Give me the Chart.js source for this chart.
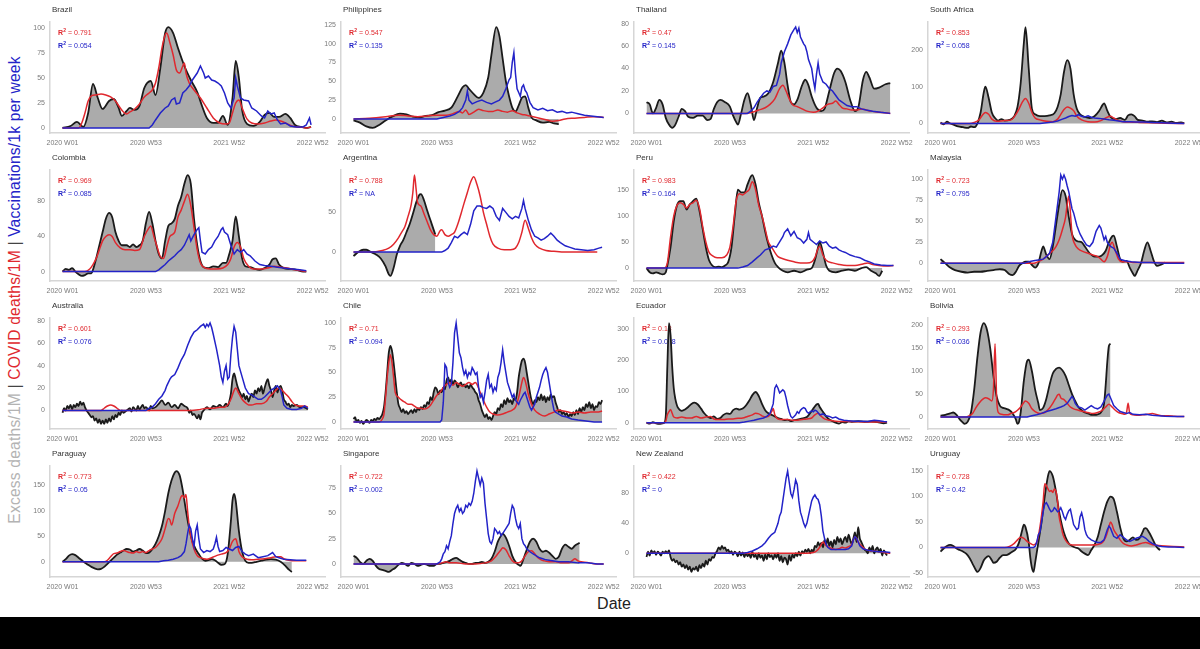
<!DOCTYPE html>
<html><head><meta charset="utf-8">
<script src="https://cdn.jsdelivr.net/npm/chart.js@4.4.1/dist/chart.umd.min.js"></script>
<style>
html,body{margin:0;padding:0;background:#fff;width:1200px;height:649px;overflow:hidden;position:relative;font-family:'Liberation Sans',Arial,sans-serif}
canvas{position:absolute}
#ylab{position:absolute;left:15px;top:290px;transform:translate(-50%,-50%) rotate(-90deg);white-space:nowrap;font-size:15.6px;letter-spacing:0.2px}
#xlab{position:absolute;left:614px;top:604px;transform:translate(-50%,-50%);font-size:16px;color:#222}
#band{position:absolute;left:0;top:617px;width:1200px;height:32px;background:#000}
</style></head><body>
<div id="ylab"><span style="color:#b3b3b3">Excess deaths/1M</span><span style="color:#444"> | </span><span style="color:#e0282e">COVID deaths/1M</span><span style="color:#444"> | </span><span style="color:#2323c8">Vaccinations/1k per week</span></div>
<div id="xlab">Date</div>
<div id="band"></div>
<script>
// ---------- shared axis data ----------
const tickWeeks = [0, 52, 104, 156];
const tickLabels = ['2020 W01', '2020 W53', '2021 W52', '2022 W52'];
const countries = ['Brazil','Philippines','Thailand','South Africa','Colombia','Argentina','Peru','Malaysia','Australia','Chile','Ecuador','Bolivia','Paraguay','Singapore','New Zealand','Uruguay'];
const r2Covid = ['0.791','0.547','0.47','0.853','0.969','0.788','0.983','0.723','0.601','0.71','0.18','0.293','0.773','0.722','0.422','0.728'];
const r2Vacc  = ['0.054','0.135','0.145','0.058','0.085','NA','0.164','0.795','0.076','0.094','0.028','0.036','0.05','0.002','0','0.42'];
const yTicks = [[0,25,50,75,100],[0,25,50,75,100,125],[0,20,40,60,80],[0,100,200],[0,40,80],[0,50],[0,50,100,150],[0,25,50,75,100],[0,20,40,60,80],[0,25,50,75,100],[0,100,200,300],[0,50,100,150,200],[0,50,100,150],[0,25,50,75],[0,40,80],[-50,0,50,100,150]];

// ---------- series: [week index, value] ----------
const brazilExcess = [[0,0],[5,2],[9,6],[13,1],[16,15],[19,44],[22,30],[25,19],[29,27],[32,29],[35,20],[37,12],[40,17],[42,20],[45,18],[48,22],[51,40],[55,47],[58,33],[61,60],[64,95],[66,101],[69,95],[72,80],[76,62],[80,48],[84,36],[87,22],[90,10],[94,5],[97,5],[100,12],[103,3],[106,30],[108,67],[110,50],[112,18],[115,4],[119,2],[123,6],[126,13],[129,15],[132,11],[135,11],[139,14],[142,10],[145,3],[149,1],[152,0],[155,1]];
const brazilCovid = [[0,0],[10,0],[12,5],[14,15],[16,27],[18,32],[21,33],[24,34],[27,33],[30,31],[33,27],[36,20],[38,16],[40,14],[42,16],[45,19],[48,24],[51,31],[54,35],[56,38],[58,45],[60,60],[62,80],[64,93],[65,95],[67,85],[69,73],[71,58],[73,55],[75,62],[76,65],[77,55],[79,45],[82,38],[86,30],[90,20],[94,10],[98,5],[102,4],[104,5],[106,15],[108,25],[110,28],[112,20],[115,9],[118,5],[122,4],[126,5],[130,7],[133,8],[136,7],[139,5],[143,2],[148,1],[152,0],[155,1]];
const brazilVacc = [[0,0],[54,0],[56,3],[58,8],[61,15],[64,20],[66,22],[68,28],[70,30],[71,24],[73,25],[75,35],[77,38],[79,42],[81,48],[84,55],[86,62],[88,55],[89,50],[91,52],[93,48],[95,47],[97,45],[99,42],[101,35],[103,25],[105,20],[107,30],[108,50],[109,42],[111,30],[113,28],[116,27],[118,20],[121,17],[124,12],[126,10],[128,17],[130,14],[132,15],[134,8],[136,4],[139,5],[142,2],[146,1],[150,1],[152,3],[154,10],[155,3]];

const philippinesExcess = [[0,-2],[4,-5],[8,-10],[12,-12],[16,-8],[20,-2],[24,3],[29,7],[33,6],[37,3],[41,2],[45,4],[49,5],[53,9],[57,11],[61,15],[65,30],[68,42],[70,45],[72,40],[75,33],[78,28],[81,35],[84,55],[86,85],[89,122],[91,110],[93,80],[95,50],[97,30],[99,15],[101,10],[103,18],[105,28],[107,30],[109,15],[111,2],[114,-2],[118,-5],[122,-4],[125,-6],[128,-7]];
const philippinesCovid = [[0,0],[10,1],[20,3],[28,5],[34,4],[40,3],[46,4],[52,5],[58,5],[62,7],[66,10],[68,8],[70,12],[72,6],[75,9],[78,13],[81,11],[84,10],[87,10],[90,12],[93,10],[96,9],[99,11],[102,8],[105,6],[108,5],[112,3],[116,1],[120,-1],[124,-3],[128,-2],[132,0],[138,1],[144,2],[150,3],[156,2]];
const philippinesVacc = [[0,0],[52,0],[56,2],[60,4],[63,6],[66,10],[68,15],[70,25],[71,37],[72,25],[74,20],[77,23],[80,25],[83,22],[86,20],[88,22],[91,25],[93,30],[95,40],[97,52],[98,55],[99,75],[100,88],[101,60],[102,40],[103,35],[104,30],[105,42],[106,45],[107,38],[108,35],[110,22],[112,15],[115,12],[118,14],[121,11],[124,12],[127,9],[130,10],[133,8],[136,9],[140,7],[144,5],[148,4],[152,3],[156,2]];

const thailandExcess = [[0,10],[2,8],[4,0],[6,5],[8,12],[10,8],[12,-4],[14,-10],[16,-13],[18,-10],[20,-3],[22,4],[24,2],[26,-3],[29,-4],[32,-2],[35,-2],[38,-6],[40,-5],[42,4],[44,10],[46,12],[49,10],[52,6],[54,-2],[56,-8],[57,-10],[59,0],[61,12],[63,18],[65,8],[67,-6],[69,5],[71,14],[73,15],[76,18],[79,28],[82,45],[84,56],[86,45],[88,25],[90,10],[92,8],[94,12],[97,25],[99,30],[101,25],[103,15],[106,5],[109,2],[111,4],[114,20],[117,36],[119,40],[121,38],[124,28],[127,12],[130,2],[132,5],[135,30],[137,37],[139,32],[142,22],[145,23],[149,26],[152,27]];
const thailandCovid = [[0,0],[62,0],[66,1],[70,3],[74,5],[77,8],[80,13],[83,22],[85,25],[87,20],[89,13],[91,8],[94,6],[97,4],[100,2],[104,1],[107,2],[110,5],[113,8],[116,9],[118,11],[120,8],[122,5],[125,4],[128,3],[131,3],[134,4],[137,3],[140,2],[145,1],[152,0]];
const thailandVacc = [[0,0],[63,0],[65,2],[67,5],[69,10],[71,14],[73,18],[75,20],[77,19],[79,24],[81,25],[83,35],[84,45],[86,55],[88,62],[90,70],[92,75],[93,77],[94,72],[95,76],[96,68],[98,62],[99,60],[100,55],[101,48],[102,44],[103,40],[104,30],[105,22],[106,35],[107,45],[108,35],[110,28],[112,26],[114,22],[116,20],[118,16],[120,12],[122,10],[125,7],[128,6],[131,6],[134,4],[137,3],[141,2],[146,1],[152,0]];

const southAfricaExcess = [[0,3],[2,-2],[4,5],[6,0],[8,-3],[11,-8],[14,-10],[17,-12],[19,-8],[21,-10],[23,0],[25,30],[27,85],[28,100],[30,70],[32,30],[34,15],[36,8],[38,12],[40,8],[43,10],[46,20],[48,45],[50,110],[52,220],[53,262],[55,150],[57,40],[59,25],[62,20],[65,20],[68,22],[71,28],[73,45],[75,80],[77,140],[79,172],[81,150],[83,80],[85,40],[87,25],[90,18],[93,15],[96,20],[99,35],[101,50],[102,55],[104,35],[106,18],[109,12],[112,15],[115,10],[117,22],[119,25],[121,20],[123,10],[126,8],[129,5],[132,6],[135,4],[138,8],[141,3],[144,5],[147,2],[150,3],[152,1]];
const southAfricaCovid = [[0,0],[18,0],[21,3],[24,10],[26,22],[28,30],[30,25],[32,12],[35,6],[40,8],[44,10],[47,25],[49,40],[51,58],[53,68],[55,55],[57,30],[59,15],[62,10],[66,6],[70,5],[73,12],[75,25],[77,38],[79,45],[81,42],[83,35],[85,20],[88,10],[92,5],[96,4],[100,8],[103,15],[106,20],[108,15],[111,8],[114,5],[118,4],[124,3],[131,2],[140,1],[152,0]];
const southAfricaVacc = [[0,0],[62,0],[66,2],[70,4],[73,7],[76,12],[78,15],[80,19],[82,22],[84,20],[86,24],[88,20],[90,18],[92,21],[94,17],[96,15],[99,14],[102,12],[105,10],[108,9],[111,7],[114,5],[118,5],[122,4],[127,4],[132,3],[138,2],[145,1],[152,0]];

const colombiaExcess = [[0,0],[2,3],[4,2],[6,4],[8,0],[10,-3],[12,-5],[14,-4],[16,-2],[18,-2],[19,2],[21,15],[23,30],[25,45],[27,60],[29,67],[31,62],[33,45],[35,35],[37,30],[40,30],[42,28],[44,31],[46,28],[48,30],[50,35],[52,55],[54,68],[56,55],[58,35],[60,20],[62,15],[64,35],[66,52],[68,55],[70,60],[72,75],[74,85],[76,100],[78,110],[80,100],[82,60],[84,30],[86,12],[88,5],[91,4],[94,6],[97,5],[100,10],[102,10],[104,20],[106,35],[108,63],[110,40],[112,15],[114,6],[117,5],[120,3],[123,2],[126,4],[129,8],[131,14],[133,15],[135,8],[138,4],[142,3],[146,2],[150,0],[152,0]];
const colombiaCovid = [[0,0],[14,0],[17,3],[19,8],[21,15],[23,25],[25,35],[27,40],[29,42],[31,40],[33,33],[36,27],[39,25],[42,25],[45,24],[48,25],[51,40],[54,50],[55,52],[57,40],[59,28],[61,17],[63,15],[65,28],[67,40],[70,45],[72,62],[74,70],[76,80],[78,88],[80,75],[82,50],[84,25],[86,10],[88,5],[92,3],[96,3],[100,4],[103,8],[105,15],[107,28],[109,33],[111,28],[113,15],[116,6],[119,3],[124,3],[128,4],[132,6],[136,5],[140,4],[145,2],[152,0]];
const colombiaVacc = [[0,0],[58,0],[60,2],[62,5],[64,8],[66,12],[68,15],[70,18],[72,22],[74,25],[76,30],[78,38],[79,42],[80,35],[82,42],[84,48],[85,50],[86,35],[87,22],[89,20],[91,25],[93,28],[95,35],[97,40],[99,48],[100,50],[101,45],[103,42],[105,30],[107,20],[109,25],[111,22],[113,25],[115,20],[117,18],[120,12],[123,8],[126,7],[130,6],[134,5],[138,4],[143,3],[148,2],[152,1]];

const argentinaExcess = [[0,-5],[3,0],[6,3],[8,3],[11,0],[14,-3],[17,-8],[20,-18],[22,-28],[23,-30],[25,-20],[27,-3],[29,8],[31,15],[33,25],[35,35],[37,48],[39,62],[41,72],[42,73],[44,65],[46,52],[48,40],[50,28],[51,22]];
const argentinaCovid = [[0,0],[10,0],[18,2],[22,5],[25,10],[28,18],[30,25],[32,32],[34,45],[36,60],[37,75],[38,97],[39,80],[40,62],[42,58],[44,48],[46,38],[48,28],[50,22],[52,20],[54,27],[55,28],[57,22],[59,20],[61,22],[63,25],[65,35],[67,48],[69,62],[71,75],[73,88],[75,95],[77,85],[79,70],[81,50],[83,35],[85,20],[87,10],[90,5],[94,3],[98,3],[101,5],[103,12],[105,25],[107,40],[109,30],[111,18],[113,10],[116,5],[120,2],[125,1],[132,0],[140,0],[148,0],[152,0]];
const argentinaVacc = [[0,0],[55,0],[57,2],[59,5],[61,12],[63,20],[65,18],[67,22],[69,25],[71,22],[73,35],[75,52],[77,58],[79,58],[81,56],[83,55],[85,58],[87,55],[89,45],[91,40],[93,55],[95,50],[97,45],[99,42],[101,45],[103,43],[105,55],[106,65],[107,55],[109,40],[111,28],[113,20],[115,18],[117,15],[119,17],[121,20],[123,24],[125,20],[127,15],[129,12],[132,8],[135,6],[138,4],[142,3],[146,2],[150,3],[153,5],[155,6]];

const peruExcess = [[0,0],[2,-8],[4,-10],[6,-8],[8,-10],[10,-12],[12,-8],[13,5],[15,40],[17,90],[19,120],[21,128],[23,128],[25,112],[27,122],[29,128],[31,133],[33,110],[35,75],[37,40],[39,15],[41,5],[43,2],[45,3],[47,2],[49,5],[51,12],[53,40],[55,100],[57,150],[59,145],[61,145],[63,160],[65,175],[66,178],[68,160],[70,125],[72,100],[74,70],[76,45],[78,25],[80,10],[82,2],[85,-5],[88,-8],[92,-5],[96,-8],[100,-3],[103,0],[105,15],[107,40],[108,50],[110,30],[112,5],[114,-5],[118,-8],[122,-5],[126,-3],[130,-5],[134,0],[137,2],[140,-5],[143,-10],[145,-15],[147,-5]];
const peruCovid = [[0,0],[11,0],[13,10],[15,60],[17,100],[19,120],[21,125],[23,122],[25,115],[27,122],[29,125],[31,130],[33,115],[35,80],[37,50],[39,30],[41,24],[44,20],[47,20],[50,25],[52,40],[54,80],[56,130],[58,142],[60,140],[62,145],[64,150],[66,165],[68,150],[70,120],[72,100],[74,75],[76,50],[78,40],[80,30],[82,22],[85,18],[88,15],[92,12],[96,10],[100,10],[103,12],[105,20],[107,38],[108,42],[110,25],[112,15],[116,10],[120,7],[125,5],[130,5],[135,8],[138,10],[141,7],[145,5],[150,4],[154,5]];
const peruVacc = [[0,0],[57,0],[60,2],[63,5],[66,12],[69,20],[71,25],[74,35],[77,38],[79,42],[81,40],[83,50],[85,60],[86,68],[88,75],[90,62],[92,70],[94,58],[96,55],[98,48],[100,55],[101,68],[102,55],[104,50],[106,45],[108,52],[110,48],[112,50],[114,42],[116,38],[118,40],[120,35],[122,32],[124,30],[127,25],[130,22],[133,20],[136,15],[139,12],[142,8],[146,6],[150,5],[154,5]];

const malaysiaExcess = [[0,5],[3,0],[6,-5],[9,-8],[13,-10],[17,-11],[21,-10],[25,-10],[29,-9],[33,-8],[37,-7],[40,-8],[43,-13],[45,-14],[47,-10],[49,-3],[51,0],[53,2],[55,2],[57,-2],[59,-5],[61,0],[63,15],[64,20],[66,10],[68,5],[70,20],[72,45],[74,70],[76,87],[78,80],[80,55],[82,35],[84,28],[86,26],[88,25],[90,20],[93,12],[96,8],[99,8],[101,10],[103,15],[105,25],[107,32],[108,33],[110,20],[112,5],[114,2],[116,3],[118,-5],[120,-12],[121,-15],[123,-8],[125,0],[127,15],[129,25],[131,15],[133,3],[135,-3],[137,-2],[140,1]];
const malaysiaCovid = [[0,0],[58,0],[61,2],[64,5],[67,10],[70,15],[72,20],[74,28],[76,40],[78,55],[79,70],[80,80],[81,60],[82,35],[84,22],[86,17],[89,14],[92,12],[95,10],[98,8],[100,5],[102,2],[104,8],[106,22],[107,25],[109,15],[111,5],[113,2],[116,2],[120,1],[125,1],[130,1],[140,1],[152,1]];
const malaysiaVacc = [[0,0],[52,0],[55,2],[58,3],[61,4],[64,5],[66,8],[68,12],[70,25],[72,55],[74,85],[75,105],[76,100],[77,105],[78,100],[79,92],[80,85],[81,75],[82,65],[83,60],[85,45],[87,35],[89,28],[91,22],[93,20],[95,25],[97,38],[99,45],[100,42],[101,35],[102,28],[103,32],[104,25],[106,20],[108,18],[110,12],[112,5],[115,3],[119,2],[125,1],[131,1],[140,0],[152,0]];

const australiaExcess = [[0,-2],[1,2],[2,0],[3,4],[4,2],[5,5],[6,1],[7,5],[8,3],[9,6],[10,4],[11,8],[12,5],[13,7],[14,3],[15,0],[16,-2],[17,-4],[18,-6],[19,-5],[20,-9],[21,-7],[22,-11],[23,-8],[24,-12],[25,-9],[26,-12],[27,-8],[28,-11],[29,-7],[30,-10],[31,-5],[32,-8],[33,-4],[34,-6],[35,-2],[36,-4],[37,0],[38,-2],[40,0],[42,2],[43,-1],[44,3],[46,0],[47,4],[48,1],[50,5],[51,2],[52,3],[54,0],[55,4],[56,2],[58,3],[60,6],[62,9],[64,5],[66,7],[68,3],[70,5],[72,2],[74,6],[76,4],[78,2],[79,-2],[80,0],[81,-4],[82,-3],[84,-7],[85,-4],[86,-8],[87,-2],[88,0],[90,3],[92,1],[94,4],[96,3],[98,5],[100,3],[102,6],[103,4],[104,8],[105,15],[106,28],[107,33],[108,28],[109,22],[110,18],[111,15],[112,12],[113,15],[114,10],[115,13],[116,8],[117,12],[118,15],[119,12],[120,18],[121,15],[122,20],[123,17],[124,22],[125,15],[126,20],[127,25],[128,28],[129,22],[130,18],[131,12],[132,18],[133,22],[134,16],[135,20],[136,22],[137,18],[138,10],[139,8],[140,5],[141,6],[142,3],[143,5],[144,4],[146,5],[148,3],[150,3],[152,2],[153,1]];
const australiaCovid = [[0,0],[24,0],[26,2],[28,4],[30,5],[32,4],[34,2],[36,0],[40,0],[60,0],[70,0],[80,0],[86,1],[90,2],[94,2],[98,3],[101,3],[103,5],[105,10],[107,18],[108,20],[110,15],[112,10],[114,7],[116,5],[118,5],[121,6],[124,6],[127,8],[129,12],[131,15],[133,18],[135,20],[137,18],[139,15],[141,12],[143,8],[145,5],[148,4],[151,4],[153,3]];
const australiaVacc = [[0,0],[52,0],[54,2],[56,3],[58,6],[60,10],[62,13],[64,18],[65,22],[67,28],[68,30],[70,32],[72,38],[74,45],[76,50],[78,58],[80,65],[82,70],[84,72],[86,75],[88,77],[89,74],[90,77],[91,75],[92,78],[93,74],[94,68],[96,55],[98,40],[99,30],[100,25],[101,35],[102,40],[103,28],[104,30],[105,50],[106,65],[107,75],[108,70],[109,55],[110,40],[112,30],[114,20],[116,15],[118,14],[120,12],[122,10],[124,10],[126,12],[128,15],[130,18],[132,20],[134,22],[136,18],[137,12],[138,5],[140,2],[143,1],[146,1],[149,2],[151,4],[153,2]];

const chileExcess = [[0,3],[1,5],[2,0],[3,2],[4,-1],[5,1],[6,-2],[7,0],[8,2],[9,1],[10,-1],[11,2],[12,1],[13,3],[14,2],[15,4],[16,3],[17,5],[18,8],[19,15],[20,30],[21,50],[22,70],[23,77],[24,72],[25,60],[26,45],[27,30],[28,18],[29,14],[30,10],[31,13],[32,9],[33,11],[34,8],[35,10],[36,12],[37,9],[38,13],[39,10],[40,14],[41,12],[42,15],[43,13],[44,17],[45,15],[46,20],[47,18],[48,25],[49,22],[50,30],[51,35],[52,33],[53,28],[54,32],[55,30],[56,35],[57,33],[58,42],[59,45],[60,40],[61,43],[62,38],[63,42],[64,40],[65,35],[66,38],[67,40],[68,36],[69,38],[70,35],[71,37],[72,34],[73,38],[74,35],[75,33],[76,30],[77,28],[78,22],[79,18],[80,12],[81,8],[82,5],[83,8],[84,3],[85,5],[86,2],[87,6],[88,10],[89,8],[90,14],[91,12],[92,18],[93,15],[94,22],[95,18],[96,24],[97,20],[98,22],[99,18],[100,24],[101,22],[102,30],[103,45],[104,55],[105,62],[106,64],[107,60],[108,50],[109,40],[110,30],[111,22],[112,18],[113,22],[114,20],[115,25],[116,22],[117,28],[118,22],[119,26],[120,20],[121,25],[122,22],[123,28],[124,25],[125,26],[126,20],[127,15],[128,10],[129,12],[130,8],[131,10],[132,7],[133,9],[134,5],[135,8],[136,6],[137,10],[138,7],[139,12],[140,8],[141,14],[142,10],[143,15],[144,12],[145,18],[146,15],[147,20],[148,14],[149,18],[150,12],[151,16],[152,15],[153,20],[154,18],[155,22]];
const chileCovid = [[0,0],[16,0],[18,3],[19,8],[20,25],[21,45],[22,60],[23,68],[24,60],[25,45],[26,30],[28,25],[30,22],[32,20],[34,18],[36,18],[38,16],[40,14],[42,14],[44,13],[46,14],[48,17],[50,22],[52,27],[54,30],[56,35],[58,38],[60,40],[62,37],[64,40],[66,38],[68,36],[70,38],[72,40],[74,38],[76,40],[77,38],[79,30],[81,22],[83,15],[85,10],[87,8],[90,7],[93,8],[96,10],[99,12],[101,15],[103,25],[105,40],[106,45],[107,42],[109,28],[111,18],[113,12],[116,8],[119,6],[122,8],[125,10],[128,12],[131,11],[134,10],[137,9],[140,10],[144,9],[148,10],[152,10],[155,11]];
const chileVacc = [[0,0],[54,0],[55,2],[56,20],[57,58],[58,55],[59,40],[60,35],[61,38],[62,60],[63,90],[64,100],[65,85],[66,70],[67,65],[68,55],[69,48],[70,52],[71,45],[72,50],[73,48],[74,55],[75,52],[76,48],[77,50],[78,35],[79,25],[80,28],[81,20],[82,30],[83,42],[84,48],[85,35],[86,38],[87,30],[88,35],[89,32],[90,45],[91,50],[92,60],[93,73],[94,60],[95,50],[96,40],[97,35],[98,30],[99,25],[100,28],[101,22],[102,20],[103,18],[104,22],[105,25],[106,28],[107,30],[108,25],[109,20],[110,15],[111,12],[112,15],[113,18],[114,25],[115,30],[116,35],[117,42],[118,48],[119,52],[120,55],[121,50],[122,40],[123,30],[124,20],[125,12],[126,10],[128,8],[130,6],[133,5],[136,3],[140,2],[145,1],[150,0],[155,0]];

const ecuadorExcess = [[0,0],[2,-3],[4,2],[6,-2],[8,-4],[10,-2],[11,0],[12,20],[13,180],[14,318],[15,280],[16,180],[17,110],[18,75],[19,55],[20,45],[21,40],[22,38],[24,42],[26,50],[28,60],[30,64],[32,58],[34,45],[36,30],[38,20],[40,15],[42,20],[44,12],[46,15],[48,25],[50,30],[52,28],[54,40],[56,45],[58,42],[60,45],[62,55],[64,70],[66,88],[68,98],[70,85],[72,60],[74,40],[76,30],[78,25],[80,20],[82,15],[84,12],[86,8],[88,10],[90,5],[92,8],[94,10],[96,12],[98,15],[100,18],[102,30],[104,45],[106,58],[107,60],[108,50],[110,35],[112,20],[114,10],[116,5],[118,0],[120,-3],[122,2],[124,0],[126,5],[128,3],[132,5],[136,3],[140,4],[144,2],[148,-2],[150,0]];
const ecuadorCovid = [[0,0],[11,0],[12,5],[13,25],[14,35],[15,42],[16,30],[17,18],[19,15],[22,18],[25,15],[28,15],[31,20],[34,15],[37,18],[40,20],[42,12],[45,10],[48,10],[51,12],[54,12],[57,14],[60,15],[63,20],[66,25],[68,30],[70,28],[72,22],[74,18],[76,20],[78,35],[79,45],[80,25],[82,12],[85,10],[88,10],[91,8],[94,8],[97,10],[100,12],[103,15],[105,25],[107,30],[109,20],[111,12],[114,8],[118,5],[124,4],[130,3],[140,2],[150,2]];
const ecuadorVacc = [[0,0],[58,0],[61,2],[64,5],[67,8],[70,12],[73,15],[75,20],[77,30],[79,60],[80,110],[81,120],[82,110],[83,95],[84,100],[85,105],[86,100],[87,80],[88,55],[89,35],[90,20],[91,15],[92,20],[93,25],[94,35],[95,30],[96,40],[97,45],[98,48],[99,45],[100,35],[101,30],[102,35],[103,38],[104,35],[105,40],[106,38],[107,32],[108,25],[110,28],[112,22],[114,20],[116,15],[118,18],[120,12],[123,8],[126,6],[130,5],[134,5],[138,4],[142,8],[145,6],[148,4],[150,3]];

const boliviaExcess = [[0,3],[3,5],[6,8],[8,10],[10,5],[12,-5],[14,-12],[15,-15],[17,-10],[19,10],[21,60],[23,130],[25,185],[27,205],[29,190],[31,150],[33,90],[35,45],[37,25],[39,20],[41,18],[43,15],[45,8],[47,-5],[48,-15],[49,-10],[50,10],[52,80],[54,122],[55,125],[57,100],[59,60],[61,30],[62,15],[64,20],[66,40],[68,70],[70,95],[72,105],[74,108],[76,102],[78,90],[80,70],[82,50],[84,35],[86,22],[88,15],[90,10],[92,8],[94,5],[96,5],[98,6],[100,10],[102,30],[103,70],[104,120],[105,155],[106,160]];
const boliviaCovid = [[0,0],[16,0],[18,3],[20,8],[22,20],[24,30],[26,38],[28,42],[30,40],[32,35],[33,60],[34,160],[35,40],[36,10],[38,6],[40,5],[42,5],[44,8],[46,10],[48,15],[50,22],[52,32],[53,35],[55,30],[57,18],[59,12],[62,8],[65,10],[68,20],[70,30],[72,42],[73,48],[74,50],[75,42],[77,38],[79,30],[81,22],[83,18],[86,15],[89,12],[92,10],[95,8],[98,10],[101,15],[103,22],[105,28],[107,22],[109,15],[111,10],[113,8],[115,6],[116,10],[117,30],[118,8],[120,5],[123,4],[126,5],[129,6],[132,8],[135,5],[138,3],[142,3],[146,2],[152,1]];
const boliviaVacc = [[0,0],[54,0],[57,3],[60,5],[63,8],[66,12],[69,15],[72,18],[75,22],[77,25],[79,30],[81,40],[82,45],[83,40],[84,30],[85,25],[86,22],[88,20],[90,15],[92,20],[94,25],[96,20],[98,18],[100,22],[102,35],[104,48],[105,50],[106,42],[108,25],[110,18],[112,12],[114,10],[116,8],[118,10],[120,6],[124,5],[128,6],[132,4],[136,3],[140,2],[146,1],[152,1]];

const paraguayExcess = [[0,0],[2,5],[4,12],[6,15],[8,13],[10,8],[12,3],[14,-2],[16,-6],[18,-10],[20,-13],[22,-15],[24,-14],[26,-10],[28,-4],[30,2],[32,8],[34,14],[36,18],[38,22],[40,25],[42,24],[44,20],[46,22],[48,25],[50,22],[52,17],[54,18],[56,25],[58,35],[60,50],[62,70],[64,100],[66,135],[68,160],[70,175],[71,178],[73,170],[75,140],[77,100],[79,65],[81,40],[83,25],[85,15],[87,6],[89,2],[91,3],[93,5],[95,3],[97,-2],[99,-6],[101,-5],[103,15],[105,80],[106,120],[107,133],[108,120],[110,60],[112,20],[114,2],[116,-2],[118,-2],[121,0],[124,2],[127,4],[130,5],[133,4],[136,0],[139,-8],[141,-15],[143,-20]];
const paraguayCovid = [[0,0],[26,0],[28,3],[30,10],[32,16],[34,17],[36,20],[38,22],[40,20],[42,18],[44,17],[46,20],[48,18],[50,20],[52,18],[54,22],[56,25],[58,28],[60,35],[62,45],[64,65],[66,85],[67,82],[68,72],[70,95],[72,110],[74,128],[75,130],[76,125],[77,132],[78,100],[79,70],[80,50],[82,25],[84,12],[86,8],[88,6],[90,5],[93,8],[96,12],[99,15],[102,18],[104,25],[106,40],[108,45],[109,35],[110,20],[112,10],[115,5],[118,4],[122,5],[126,6],[130,8],[133,10],[136,10],[138,6],[141,3],[146,2],[152,2]];
const paraguayVacc = [[0,0],[60,0],[63,2],[66,3],[69,5],[72,8],[74,12],[76,20],[77,35],[78,55],[79,72],[80,65],[81,45],[82,30],[83,60],[84,72],[85,45],[86,25],[88,18],[90,22],[92,20],[94,25],[95,35],[96,48],[97,30],[98,20],[100,22],[102,28],[104,25],[106,22],[108,28],[110,30],[112,20],[114,15],[116,12],[119,15],[122,8],[125,10],[128,12],[131,18],[133,10],[135,8],[138,5],[142,4],[146,3],[152,3]];

const singaporeExcess = [[0,8],[2,6],[4,2],[6,0],[8,3],[10,5],[12,3],[14,-2],[16,-5],[18,-6],[20,-7],[22,-8],[24,-6],[26,-4],[28,-1],[30,1],[32,0],[34,-2],[36,1],[38,0],[40,-2],[42,-1],[44,0],[46,-1],[48,-2],[50,-2],[52,0],[54,0],[56,1],[58,2],[60,3],[62,5],[64,6],[66,4],[68,2],[70,1],[72,0],[74,0],[76,1],[78,1],[80,2],[82,1],[84,2],[86,5],[88,12],[90,22],[92,28],[93,30],[95,26],[97,18],[99,8],[101,2],[103,-1],[104,-2],[106,5],[108,14],[110,22],[112,25],[114,22],[116,15],[118,12],[120,13],[122,11],[124,8],[126,5],[128,7],[130,15],[132,19],[134,17],[136,15],[138,18],[140,20],[141,21]];
const singaporeCovid = [[0,0],[52,0],[55,1],[58,2],[60,1],[64,1],[70,0],[76,0],[82,1],[86,3],[88,6],[90,10],[92,14],[93,16],[95,14],[97,8],[99,3],[101,1],[103,1],[105,3],[107,8],[109,12],[111,13],[113,10],[115,6],[117,4],[119,3],[122,2],[126,2],[130,1],[134,1],[137,4],[138,5],[140,3],[143,2],[147,1],[151,0],[156,0]];
const singaporeVacc = [[0,0],[52,0],[54,2],[55,5],[56,10],[57,12],[58,18],[59,15],[60,22],[61,28],[62,40],[63,50],[64,55],[65,58],[66,52],[67,55],[68,50],[69,52],[70,58],[71,56],[72,60],[73,58],[74,62],[75,70],[76,82],[77,92],[78,85],[79,78],[80,85],[81,80],[82,60],[83,45],[84,30],[85,22],[86,20],[87,25],[88,35],[89,33],[90,30],[91,32],[92,28],[93,30],[95,35],[97,40],[98,50],[99,58],[100,55],[101,45],[102,38],[103,35],[104,40],[105,25],[106,20],[107,18],[108,15],[110,12],[112,10],[114,8],[116,6],[118,5],[120,4],[124,3],[128,2],[134,2],[140,1],[146,1],[152,0],[156,0]];

const newZealandExcess = [[0,-5],[1,2],[2,-3],[3,4],[4,0],[5,3],[6,-2],[7,2],[8,0],[9,-3],[10,2],[11,0],[12,3],[13,0],[14,4],[15,-5],[16,-10],[17,-8],[18,-12],[19,-10],[20,-15],[21,-12],[22,-18],[23,-15],[24,-20],[25,-16],[26,-22],[27,-18],[28,-25],[29,-20],[30,-22],[31,-18],[32,-24],[33,-16],[34,-20],[35,-14],[36,-18],[37,-10],[38,-15],[39,-8],[40,-10],[41,-5],[42,-6],[43,0],[44,3],[45,8],[46,5],[47,10],[48,6],[49,8],[50,3],[51,5],[52,0],[53,3],[54,-2],[55,2],[56,0],[57,-4],[58,2],[59,-3],[60,1],[61,-5],[62,0],[63,-4],[64,-1],[65,-6],[66,2],[67,-5],[68,-2],[69,-8],[70,0],[71,-6],[72,-3],[73,-10],[74,-2],[75,-8],[76,0],[77,-5],[78,-3],[79,-8],[80,-2],[81,-6],[82,0],[83,-10],[84,-4],[85,-12],[86,-6],[87,-8],[88,-15],[89,-3],[90,-10],[91,-2],[92,-6],[93,0],[94,-4],[95,2],[96,-3],[97,3],[98,0],[99,5],[100,2],[101,6],[102,0],[103,5],[104,2],[105,10],[106,8],[107,15],[108,10],[109,14],[110,8],[111,18],[112,12],[113,20],[114,10],[115,16],[116,8],[117,18],[118,12],[119,22],[120,15],[121,20],[122,12],[123,18],[124,22],[125,15],[126,25],[127,18],[128,12],[129,20],[130,28],[131,15],[132,35],[133,20],[134,15],[135,10],[136,5],[137,3],[138,0],[139,8],[140,3],[141,10],[142,0],[143,5],[144,8],[145,2],[146,6],[147,-3],[148,4],[149,0],[150,-3]];
const newZealandCovid = [[0,0],[60,0],[100,0],[104,1],[106,3],[108,8],[109,12],[110,15],[112,10],[114,8],[116,6],[118,5],[120,6],[122,8],[124,7],[126,9],[128,12],[129,18],[130,22],[131,20],[132,15],[134,10],[136,6],[138,4],[140,3],[142,3],[145,2],[148,1],[152,0]];
const newZealandVacc = [[0,0],[60,0],[63,1],[66,3],[69,6],[72,10],[74,14],[76,20],[78,25],[80,28],[82,40],[83,50],[84,55],[85,70],[86,85],[87,100],[88,110],[89,95],[90,80],[91,75],[92,85],[93,98],[94,92],[95,70],[96,55],[97,48],[98,40],[99,35],[100,40],[101,50],[102,60],[103,70],[104,75],[105,78],[106,74],[107,72],[108,65],[109,50],[110,30],[111,20],[112,12],[113,8],[115,5],[118,5],[121,5],[124,5],[126,6],[128,10],[129,18],[130,22],[131,20],[132,15],[133,10],[135,6],[138,4],[141,3],[145,2],[148,2],[152,1]];

const uruguayExcess = [[0,-8],[2,-2],[4,3],[6,5],[8,3],[10,-2],[12,-5],[14,-8],[16,-12],[18,-20],[20,-32],[22,-44],[23,-48],[25,-40],[27,-25],[29,-18],[30,-17],[32,-25],[33,-30],[35,-28],[37,-20],[39,-15],[41,-15],[43,-12],[45,-8],[47,-3],[49,10],[51,35],[52,45],[53,40],[55,10],[56,-20],[57,-40],[58,-48],[59,-30],[61,10],[63,50],[65,100],[67,140],[68,150],[70,140],[72,110],[74,70],[76,40],[78,20],[80,8],[82,3],[84,0],[86,-2],[88,-8],[90,-12],[92,-15],[94,-5],[96,5],[98,20],[100,45],[102,70],[104,90],[106,100],[108,95],[110,70],[112,40],[114,18],[116,12],[118,15],[120,20],[122,15],[124,18],[126,30],[127,37],[128,38],[130,30],[132,18],[134,5],[136,-3],[137,-5]];
const uruguayCovid = [[0,0],[40,0],[43,2],[46,8],[48,15],[50,20],[52,18],[54,12],[56,8],[58,5],[60,10],[62,40],[64,90],[65,125],[66,122],[67,115],[68,110],[69,112],[70,108],[71,115],[72,110],[73,90],[74,60],[75,45],[76,30],[77,20],[79,10],[82,5],[86,5],[90,5],[94,5],[98,6],[101,10],[103,20],[105,40],[106,50],[107,45],[108,35],[110,25],[112,15],[114,8],[116,5],[119,3],[122,5],[125,8],[128,10],[130,8],[133,5],[136,4],[140,3],[145,2],[152,1]];
const uruguayVacc = [[0,0],[58,0],[59,2],[60,10],[61,25],[62,30],[63,50],[64,70],[65,85],[66,88],[67,82],[68,75],[69,70],[70,72],[71,78],[72,75],[73,70],[74,72],[75,78],[76,70],[77,60],[78,55],[79,65],[80,72],[81,75],[82,60],[83,45],[84,40],[85,35],[86,38],[87,60],[88,68],[89,55],[90,35],[91,25],[92,20],[94,15],[96,12],[98,10],[100,10],[102,15],[103,25],[104,35],[105,42],[106,38],[107,30],[108,22],[110,18],[112,25],[114,20],[116,15],[118,12],[120,15],[122,18],[124,20],[126,22],[128,18],[130,12],[132,8],[134,5],[136,3],[138,2],[142,1],[146,1],[152,0]];

// ---------- table built from the named arrays ----------
const panelSeries = [
  [brazilExcess, brazilCovid, brazilVacc],
  [philippinesExcess, philippinesCovid, philippinesVacc],
  [thailandExcess, thailandCovid, thailandVacc],
  [southAfricaExcess, southAfricaCovid, southAfricaVacc],
  [colombiaExcess, colombiaCovid, colombiaVacc],
  [argentinaExcess, argentinaCovid, argentinaVacc],
  [peruExcess, peruCovid, peruVacc],
  [malaysiaExcess, malaysiaCovid, malaysiaVacc],
  [australiaExcess, australiaCovid, australiaVacc],
  [chileExcess, chileCovid, chileVacc],
  [ecuadorExcess, ecuadorCovid, ecuadorVacc],
  [boliviaExcess, boliviaCovid, boliviaVacc],
  [paraguayExcess, paraguayCovid, paraguayVacc],
  [singaporeExcess, singaporeCovid, singaporeVacc],
  [newZealandExcess, newZealandCovid, newZealandVacc],
  [uruguayExcess, uruguayCovid, uruguayVacc]
];

// ---------- layout / style ----------
const RED = '#e0282e', BLUE = '#2323c8', BLACK = '#1a1a1a', FILL = '#ababab', AXIS = '#d6d6d6', TICK = '#7a7a7a';
const FONT = '"Liberation Sans", Arial, sans-serif';
const COL_W0 = [63, 354, 647, 941];
const ROW_TOP = [22, 170, 318, 466];
const PLOT_W = 277, PLOT_H = 111, X_MIN = -7.8, X_MAX = 163.8;
const Y_AXIS_W = 40, TOP_PAD = 22, X_AXIS_H = 16, RIGHT_PAD = 8;

const panelText = {
  id: 'panelText',
  beforeDatasetsDraw(chart, args, o) {
    const ctx = chart.ctx, a = chart.chartArea;
    ctx.save();
    ctx.textAlign = 'left'; ctx.textBaseline = 'middle';
    ctx.fillStyle = '#333'; ctx.font = '8px ' + FONT;
    ctx.fillText(o.title, a.left + 2, a.top - 12);
    const r2 = (y, val, col) => {
      let x = a.left + 8;
      ctx.fillStyle = col;
      ctx.font = 'bold 7px ' + FONT; ctx.fillText('R', x, y);
      x += ctx.measureText('R').width + 0.3;
      ctx.font = 'bold 5px ' + FONT; ctx.fillText('2', x, y - 2.5);
      x += ctx.measureText('2').width;
      ctx.font = '7px ' + FONT; ctx.fillText(' = ' + val, x, y);
    };
    r2(a.top + 11, o.r2c, RED);
    r2(a.top + 24, o.r2v, BLUE);
    ctx.restore();
  }
};

countries.forEach((name, i) => {
  const row = Math.floor(i / 4), col = i % 4;
  const [ex, cv, vc] = panelSeries[i];
  const all = ex.concat(cv, vc).map(p => p[1]);
  const lo = Math.min(0, ...all), hi = Math.max(...all);
  const pad = (hi - lo) * 0.05;
  const plotLeft = COL_W0[col] - (0 - X_MIN) * PLOT_W / (X_MAX - X_MIN);
  const cv_ = document.createElement('canvas');
  const W = Y_AXIS_W + PLOT_W + RIGHT_PAD, H = TOP_PAD + PLOT_H + X_AXIS_H;
  cv_.width = W; cv_.height = H;
  cv_.style.left = (plotLeft - Y_AXIS_W) + 'px';
  cv_.style.top = (ROW_TOP[row] - TOP_PAD) + 'px';
  cv_.style.width = W + 'px'; cv_.style.height = H + 'px';
  document.body.appendChild(cv_);
  const yt = yTicks[i];
  new Chart(cv_, {
    type: 'line',
    data: { datasets: [
      { data: ex, borderColor: BLACK, borderWidth: 1.8, backgroundColor: FILL, fill: 'origin', cubicInterpolationMode: 'monotone', pointRadius: 0, order: 3 },
      { data: cv, borderColor: RED, borderWidth: 1.5, fill: false, cubicInterpolationMode: 'monotone', pointRadius: 0, order: 2 },
      { data: vc, borderColor: BLUE, borderWidth: 1.5, fill: false, tension: 0, pointRadius: 0, order: 1 }
    ]},
    options: {
      responsive: false, animation: false, devicePixelRatio: 1,
      layout: { padding: { top: TOP_PAD, right: RIGHT_PAD, left: 0, bottom: 0 } },
      plugins: { legend: { display: false }, tooltip: { enabled: false }, title: { display: false },
                 panelText: { title: name, r2c: r2Covid[i], r2v: r2Vacc[i] } },
      scales: {
        x: { type: 'linear', min: X_MIN, max: X_MAX,
             grid: { display: false, drawTicks: false },
             border: { display: true, color: AXIS, width: 1.5 },
             afterBuildTicks: s => { s.ticks = tickWeeks.map(v => ({ value: v })); },
             ticks: { callback: v => tickLabels[tickWeeks.indexOf(v)], font: { size: 7, family: FONT }, color: TICK, padding: 6, maxRotation: 0, autoSkip: false },
             afterFit: s => { s.height = X_AXIS_H; } },
        y: { type: 'linear', min: lo - pad, max: hi + pad,
             grid: { display: false, drawTicks: false },
             border: { display: true, color: AXIS, width: 1.5 },
             afterBuildTicks: s => { s.ticks = yt.map(v => ({ value: v })); },
             ticks: { callback: v => String(v), font: { size: 7, family: FONT }, color: TICK, padding: 5 },
             afterFit: s => { s.width = Y_AXIS_W; } }
      }
    },
    plugins: [panelText]
  });
});
</script>
</body></html>
